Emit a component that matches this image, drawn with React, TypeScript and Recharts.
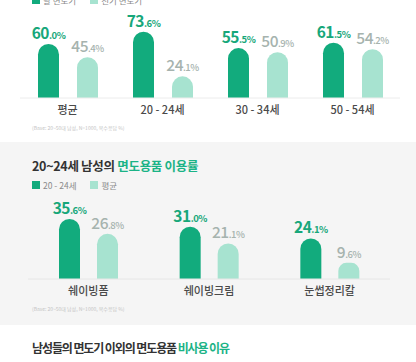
import React from 'react';
import { BarChart, Bar, XAxis, YAxis, LabelList } from 'recharts';

// 면도기 종류별 이용률
const AGE_GROUPS = ['평균', '20 - 24세', '30 - 34세', '50 - 54세'];
const BLADE_RAZOR = [60.0, 73.6, 55.5, 61.5];
const ELECTRIC_RAZOR = [45.4, 24.1, 50.9, 54.2];
const LEGEND_1 = ['날 면도기', '전기 면도기'];

// 20~24세 면도용품 이용률
const PRODUCTS = ['쉐이빙폼', '쉐이빙크림', '눈썹정리칼'];
const AGE_20_24 = [35.6, 31.0, 24.1];
const AVERAGE = [26.8, 21.1, 9.6];
const LEGEND_2 = ['20 - 24세', '평균'];

const BASE_NOTE = '(Base: 20~50대 남성, N=1000, 복수응답 %)';

const DARK = '#12ab7d';
const LIGHT = '#a7e3d0';
const DARK_TEXT = '#17a77a';
const LIGHT_TEXT = '#a6b3ae';
const FONT = "'Noto Sans CJK KR', 'Noto Sans', sans-serif";

const chart1Data = AGE_GROUPS.map((name, i) => ({ name, a: BLADE_RAZOR[i], b: ELECTRIC_RAZOR[i] }));
const chart2Data = PRODUCTS.map((name, i) => ({ name, a: AGE_20_24[i], b: AVERAGE[i] }));

const makeLabel = (color: string, weight: number) => (props: any) => {
    const { x, y, width, value } = props;
    const [int, dec] = Number(value).toFixed(1).split('.');
    return (
        <text
            x={Number(x) + Number(width) / 2}
            y={Number(y) - 5}
            textAnchor="middle"
            fill={color}
            fontWeight={weight}
            fontFamily={FONT}
            letterSpacing={-0.5}
        >
            <tspan fontSize={15.5}>{int}</tspan>
            <tspan fontSize={9.5}>.{dec}%</tspan>
        </text>
    );
};

const tickStyle = { fill: '#4a4a4a', fontSize: 11, fontFamily: FONT, fontWeight: 500 };

function Legend({ items, top }: { items: string[]; top: number }) {
    return (
        <div style={{ position: 'absolute', left: 32, top, display: 'flex', alignItems: 'center', fontSize: 8.5, color: '#8a8a8a' }}>
            {items.map((label, i) => (
                <div key={label} style={{ display: 'flex', alignItems: 'center', marginRight: 14 }}>
                    <span style={{ width: 8, height: 8, background: i === 0 ? DARK : LIGHT, marginRight: 3 }} />
                    <span>{label}</span>
                </div>
            ))}
        </div>
    );
}

function Note({ top }: { top: number }) {
    return (
        <div style={{ position: 'absolute', left: 32, top, fontSize: 5, color: '#c4c4c4', whiteSpace: 'nowrap' }}>
            {BASE_NOTE}
        </div>
    );
}

export default function App() {
    return (
        <div
            style={{
                position: 'absolute',
                left: 0,
                top: 0,
                width: 416,
                height: 362,
                overflow: 'hidden',
                background: '#ffffff',
                fontFamily: FONT,
            }}
        >
            {/* 회색 배경 섹션 */}
            <div style={{ position: 'absolute', left: 0, top: 142, width: 416, height: 183, background: '#f5f5f5' }} />

            <Legend items={LEGEND_1} top={-6} />

            <div style={{ position: 'absolute', left: 0, top: 0 }}>
                <BarChart width={416} height={130} data={chart1Data} margin={{ top: 8, right: 16, left: 20, bottom: 0 }} barGap={18}>
                    <XAxis
                        dataKey="name"
                        height={32}
                        tickLine={false}
                        axisLine={{ stroke: '#ececec' }}
                        tick={tickStyle}
                        interval={0}
                    />
                    <YAxis hide domain={[0, 100]} />
                    <Bar dataKey="a" fill={DARK} barSize={21} radius={[10.5, 10.5, 0, 0]} isAnimationActive={false}>
                        <LabelList dataKey="a" content={makeLabel(DARK_TEXT, 700)} />
                    </Bar>
                    <Bar dataKey="b" fill={LIGHT} barSize={21} radius={[10.5, 10.5, 0, 0]} isAnimationActive={false}>
                        <LabelList dataKey="b" content={makeLabel(LIGHT_TEXT, 500)} />
                    </Bar>
                </BarChart>
            </div>

            <Note top={124} />

            <div style={{ position: 'absolute', left: 32, top: 156, fontSize: 12.5, fontWeight: 700, color: '#333', letterSpacing: -0.3, whiteSpace: 'nowrap' }}>
                20~24세 남성의 <span style={{ color: '#1bb386' }}>면도용품 이용률</span>
            </div>

            <Legend items={LEGEND_2} top={179} />

            <div style={{ position: 'absolute', left: 0, top: 192 }}>
                <BarChart width={416} height={120} data={chart2Data} margin={{ top: 19.6, right: 26, left: 28, bottom: 0 }} barGap={17}>
                    <XAxis
                        dataKey="name"
                        height={33}
                        tickLine={false}
                        axisLine={{ stroke: '#e6e6e6' }}
                        tick={tickStyle}
                        interval={0}
                    />
                    <YAxis hide domain={[0, 40]} />
                    <Bar dataKey="a" fill={DARK} barSize={21} radius={[10.5, 10.5, 0, 0]} isAnimationActive={false}>
                        <LabelList dataKey="a" content={makeLabel(DARK_TEXT, 700)} />
                    </Bar>
                    <Bar dataKey="b" fill={LIGHT} barSize={21} radius={[10.5, 10.5, 0, 0]} isAnimationActive={false}>
                        <LabelList dataKey="b" content={makeLabel(LIGHT_TEXT, 500)} />
                    </Bar>
                </BarChart>
            </div>

            <Note top={305} />

            <div style={{ position: 'absolute', left: 32, top: 339, fontSize: 12, fontWeight: 700, color: '#333', letterSpacing: -1.1, whiteSpace: 'nowrap' }}>
                남성들의 면도기 이외의 면도용품 <span style={{ color: '#1bb386' }}>비사용 이유</span>
            </div>
        </div>
    );
}
